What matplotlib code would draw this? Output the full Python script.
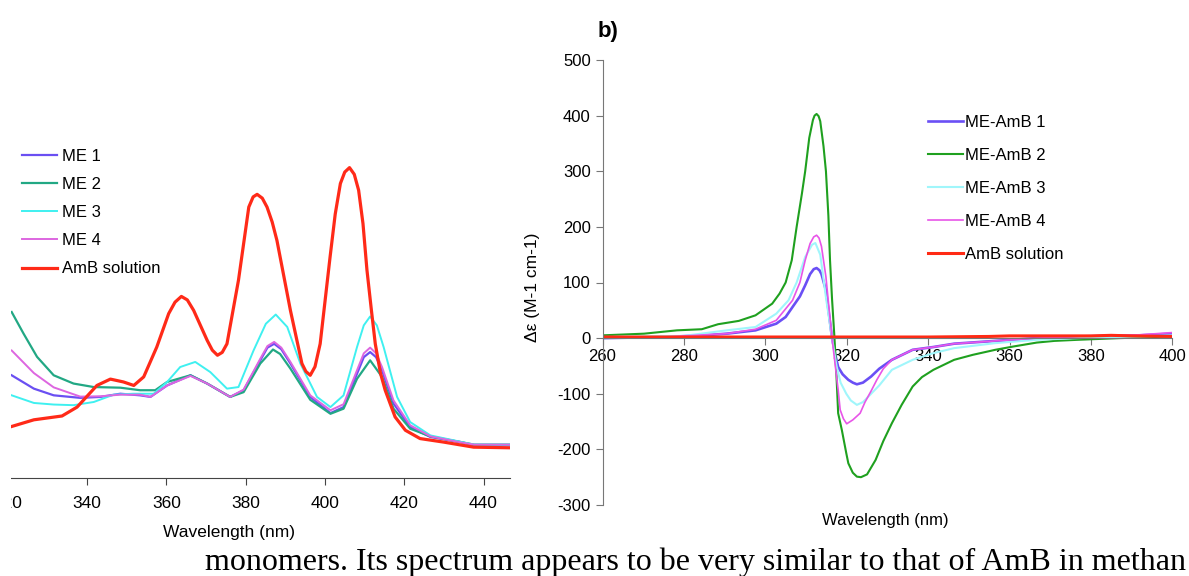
import matplotlib
matplotlib.use("Agg")
import matplotlib.pyplot as plt
from matplotlib.patches import Rectangle

plt.rcParams['font.family'] = ['Liberation Sans', 'DejaVu Sans']
plt.rcParams['axes.unicode_minus'] = False

W, H = 1189, 576

# ---- panel a) absorbance (arbitrary units), only part of it is visible
wl_amb_a = [321.0, 326.6, 333.7, 337.5, 342.5, 345.9, 349.2, 351.8, 354.3, 357.6,
            360.6, 362.2, 363.8, 365.3, 366.9, 370.3, 371.6, 372.9, 374.1, 375.3,
            378.2, 380.8, 381.9, 382.9, 384.2, 385.4, 386.7, 387.9, 391.3, 394.2,
            395.2, 396.3, 397.5, 398.8, 401.3, 402.6, 403.9, 405.0, 406.2, 407.4,
            408.5, 409.6, 410.6, 411.7, 412.7, 414.0, 415.2, 417.7, 420.3, 424.0,
            429.9, 437.5, 446.7]
abs_amb = [0.162, 0.183, 0.195, 0.223, 0.291, 0.311, 0.302, 0.291, 0.318, 0.412,
           0.517, 0.553, 0.571, 0.560, 0.527, 0.433, 0.402, 0.386, 0.395, 0.422,
           0.622, 0.852, 0.884, 0.892, 0.880, 0.852, 0.805, 0.747, 0.527, 0.360,
           0.335, 0.323, 0.350, 0.422, 0.695, 0.830, 0.926, 0.962, 0.976, 0.955,
           0.905, 0.800, 0.654, 0.530, 0.422, 0.330, 0.276, 0.192, 0.150, 0.124,
           0.113, 0.097, 0.095]

wl_me = [321.0, 326.6, 331.6, 338.3, 343.4, 348.4, 353.4, 356.0, 360.2, 366.1,
         370.3, 376.1, 379.5, 383.7, 385.5, 387.2, 389.0, 391.3, 396.3, 401.4,
         404.7, 408.1, 409.8, 411.4, 412.9, 414.4, 417.3, 421.5, 426.6, 434.2,
         437.6, 446.7]
abs_me1 = [0.323, 0.281, 0.260, 0.252, 0.255, 0.265, 0.260, 0.255, 0.291, 0.323,
           0.297, 0.255, 0.276, 0.370, 0.410, 0.422, 0.405, 0.360, 0.255, 0.204,
           0.223, 0.328, 0.380, 0.396, 0.380, 0.339, 0.234, 0.160, 0.129, 0.113,
           0.103, 0.103]
abs_me4 = [0.401, 0.330, 0.285, 0.256, 0.257, 0.262, 0.262, 0.255, 0.291, 0.321,
           0.297, 0.255, 0.278, 0.375, 0.415, 0.428, 0.410, 0.365, 0.260, 0.213,
           0.232, 0.339, 0.392, 0.410, 0.392, 0.349, 0.244, 0.166, 0.131, 0.112,
           0.105, 0.105]

wl_me2 = [321.0, 324.0, 327.4, 331.6, 336.6, 341.7, 348.4, 353.4, 357.2, 360.2,
          366.1, 370.3, 376.1, 379.5, 383.7, 386.9, 388.7, 391.3, 396.3, 401.4,
          404.7, 408.1, 411.4, 414.4, 417.3, 421.5, 426.6, 437.6, 446.7]
abs_me2 = [0.522, 0.454, 0.381, 0.323, 0.297, 0.286, 0.284, 0.276, 0.276, 0.302,
           0.323, 0.297, 0.255, 0.270, 0.360, 0.404, 0.390, 0.344, 0.246, 0.202,
           0.218, 0.312, 0.370, 0.318, 0.218, 0.155, 0.131, 0.105, 0.105]

wl_me3 = [321.0, 326.6, 331.6, 336.6, 341.7, 346.7, 351.7, 356.8, 360.2, 363.5,
          367.3, 371.1, 375.3, 378.2, 382.0, 385.1, 387.6, 390.5, 393.8, 398.0,
          401.4, 404.7, 408.1, 409.8, 411.4, 413.1, 414.8, 418.2, 421.5, 426.6,
          437.6, 446.7]
abs_me3 = [0.260, 0.236, 0.231, 0.229, 0.239, 0.262, 0.265, 0.265, 0.302, 0.349,
           0.365, 0.333, 0.281, 0.286, 0.401, 0.485, 0.514, 0.475, 0.360, 0.255,
           0.223, 0.260, 0.412, 0.480, 0.508, 0.480, 0.412, 0.255, 0.176, 0.134,
           0.105, 0.105]

ticks_a = [320, 340, 360, 380, 400, 420, 440]

# ---- panel b) CD spectra
wl_cd2 = [260, 270.2, 278.3, 284.4, 288.4, 293.5, 297.6, 301.7, 303.5, 305.0,
          306.5, 307.7, 309.0, 309.8, 310.8, 311.7, 312.1, 312.6, 313.1, 313.5,
          314.3, 314.9, 315.5, 315.9, 316.4, 317.0, 317.5, 317.9, 318.8, 319.9,
          320.4, 321.5, 322.5, 323.5, 325.0, 327.1, 329.0, 331.1, 333.5, 336.2,
          338.5, 341.3, 346.4, 351.0, 356.5, 361.0, 366.7, 371.0, 376.8, 387.0,
          400]
cd2 = [5, 8, 14, 16, 25, 31, 41, 62, 80, 100,
       140, 200, 260, 300, 360, 392, 400, 403, 399, 390,
       345, 300, 220, 140, 70, 0, -70, -135, -165, -207,
       -225, -242, -249, -250, -245, -219, -185, -153, -120, -87,
       -70, -57, -39, -30, -21, -15, -8, -5, -3, 0,
       3]

wl_cd1 = [260, 275, 285, 290.5, 297.6, 302.7, 305.0, 306.7, 308.5, 309.8,
          311.0, 311.9, 312.6, 313.3, 313.8, 314.9, 315.7, 316.4, 317.2, 317.9,
          319.0, 320.4, 321.5, 322.5, 324.0, 326.0, 328.0, 331.1, 336.2, 341.3,
          346.4, 356.5, 366.7, 376.8, 392, 400]
cd1 = [0, 2, 5, 8, 14, 26, 38, 56, 75, 95,
       115, 124, 126, 122, 115, 86, 40, 0, -30, -52,
       -65, -75, -80, -83, -80, -69, -55, -39, -21, -16,
       -10, -5, 0, 3, 5, 8]

wl_cd3 = [260, 280, 290.5, 297.6, 302.7, 305.7, 307.7, 309.8, 311.5, 312.3,
          313.5, 315.0, 316.4, 317.5, 318.5, 319.9, 321.0, 322.5, 324.0, 326.0,
          328.0, 331.1, 336.2, 341.3, 346.4, 356.5, 366.7, 376.8, 392, 400]
cd3 = [2, 4, 14, 20, 44, 68, 100, 146, 168, 171,
       150, 68, 0, -50, -80, -100, -112, -120, -115, -100,
       -85, -57, -39, -27, -18, -9, -3, 0, 3, 5]

wl_cd4 = [260, 275, 290.5, 297.6, 302.7, 306.7, 308.5, 309.8, 311.0, 311.9,
          312.6, 313.2, 313.8, 314.9, 315.7, 316.4, 317.2, 317.9, 318.4, 319.2,
          320.0, 321.5, 323.3, 324.5, 326.0, 327.4, 329.0, 331.1, 336.2, 341.3,
          346.4, 356.5, 366.7, 376.8, 392, 400]
cd4 = [0, 2, 8, 16, 32, 68, 100, 140, 170, 182,
       185, 180, 165, 110, 50, 0, -50, -93, -129, -145,
       -154, -147, -135, -115, -95, -75, -55, -39, -21, -16,
       -10, -5, 0, 3, 6, 10]

wl_cd_amb = [260, 300, 340, 355, 360, 370, 380, 385, 390, 400]
cd_amb = [2, 2, 2, 3, 4, 4, 4, 5, 4, 3]

ticks_b = [260, 280, 300, 320, 340, 360, 380, 400]
yticks_b = [-300, -200, -100, 0, 100, 200, 300, 400, 500]


def px(x0, y0, x1, y1):
    # pixel box (top-left origin) -> figure fraction rect
    return [x0 / W, 1 - y1 / H, (x1 - x0) / W, (y1 - y0) / H]


fig = plt.figure(figsize=(W / 100, H / 100), dpi=100)

# ---------------- panel a
ax1 = fig.add_axes(px(7.7, 160, 509.7, 478))
ax1.plot(wl_me, abs_me1, color="#6a4ff2", lw=1.6, label="ME 1")
ax1.plot(wl_me2, abs_me2, color="#22a884", lw=1.6, label="ME 2")
ax1.plot(wl_me3, abs_me3, color="#3ff0f0", lw=1.4, label="ME 3")
ax1.plot(wl_me, abs_me4, color="#dd66e0", lw=1.4, label="ME 4")
ax1.plot(wl_amb_a, abs_amb, color="#ff2a18", lw=2.3, label="AmB solution")
ax1.set_xlim(320, 446.6)
ax1.set_ylim(0, 1.0)
for s in ["top", "right", "left"]:
    ax1.spines[s].set_visible(False)
ax1.spines["bottom"].set_color("#444444")
ax1.set_yticks([])
ax1.set_xticks(ticks_a)
ax1.tick_params(axis="x", length=5, color="#444444", labelsize=12.5, pad=8)
ax1.legend(loc="upper left", bbox_to_anchor=(14 / W, 1 - 141 / H),
           bbox_transform=fig.transFigure, frameon=False, fontsize=12,
           handlelength=2.1, handletextpad=0.25, labelspacing=0.78, borderpad=0)
fig.text(229 / W, 1 - 532 / H, "Wavelength (nm)", ha="center", va="center", fontsize=12.5)

# the left figure is cut at the page edge
fig.patches.append(Rectangle((0, 1 - 520 / H), 11 / W, 400 / H, transform=fig.transFigure,
                             facecolor="white", edgecolor="none", zorder=10))

# ---------------- panel b
ax2 = fig.add_axes(px(602.5, 60, 1172.3, 505))
ax2.plot(wl_cd1, cd1, color="#6a4ff5", lw=1.9, label="ME-AmB 1")
ax2.plot(wl_cd2, cd2, color="#1fa01f", lw=1.5, label="ME-AmB 2")
ax2.plot(wl_cd3, cd3, color="#a0f6fb", lw=1.5, label="ME-AmB 3")
ax2.plot(wl_cd4, cd4, color="#e855e8", lw=1.2, label="ME-AmB 4")
ax2.plot(wl_cd_amb, cd_amb, color="#ff2a14", lw=2.2, label="AmB solution")
ax2.set_xlim(260, 400)
ax2.set_ylim(-300, 500)
ax2.spines["top"].set_visible(False)
ax2.spines["right"].set_visible(False)
ax2.spines["bottom"].set_position(("data", 0))
ax2.spines["left"].set_color("#777777")
ax2.spines["bottom"].set_color("#777777")
ax2.set_xticks(ticks_b)
ax2.set_yticks(yticks_b)
ax2.tick_params(axis="both", length=5, color="#777777", labelsize=12)
ax2.tick_params(axis="x", pad=3)
ax2.legend(loc="upper left", bbox_to_anchor=(920 / W, 1 - 107 / H),
           bbox_transform=fig.transFigure, frameon=False, fontsize=12,
           handlelength=2.1, handletextpad=0.1, labelspacing=1.08, borderpad=0)
fig.text(885 / W, 1 - 520 / H, "Wavelength (nm)", ha="center", va="center", fontsize=12)
fig.text(533 / W, 1 - 287 / H, "Δε (M-1 cm-1)", ha="center", va="center",
         rotation=90, fontsize=12.5)
fig.text(598 / W, 1 - 37 / H, "b)", ha="left", va="baseline", fontsize=16,
         fontweight="bold")

# running text of the page below the figure
fig.text(205 / W, 6 / H, "monomers. Its spectrum appears to be very similar to that of AmB in methan",
         ha="left", va="baseline", fontsize=23.0, family=["Liberation Serif", "DejaVu Serif"])

fig.savefig("out.png", dpi=100)
